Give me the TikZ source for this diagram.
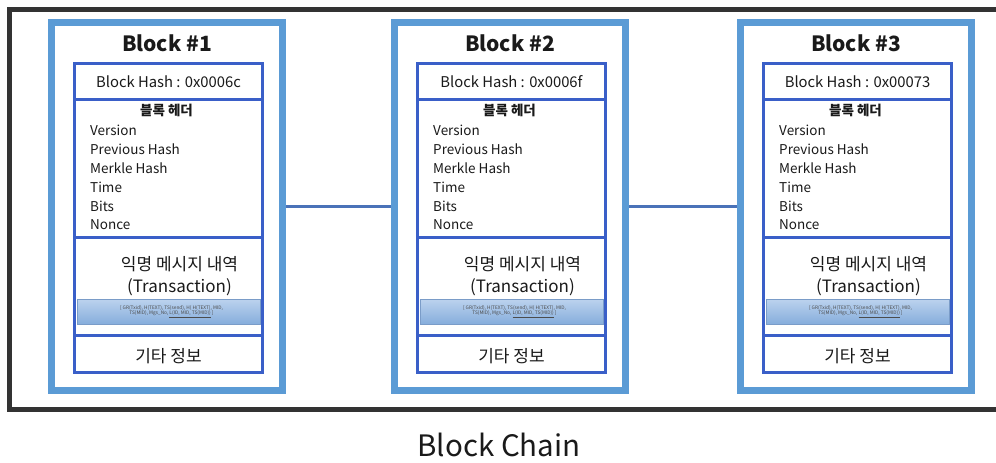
\documentclass[tikz,border=0pt]{standalone}
\usepackage{fontspec}
\setmainfont{Noto Sans CJK KR}
\definecolor{outerblue}{HTML}{5B9BD5}
\definecolor{innerblue}{HTML}{3A5FC8}
\definecolor{connblue}{HTML}{4A72B8}
\definecolor{frame}{HTML}{333333}
\definecolor{txtop}{HTML}{BCD3EE}
\definecolor{txbot}{HTML}{86ADDC}
\definecolor{txborder}{HTML}{7A9CC8}
\definecolor{txt}{HTML}{1A1A1A}
\tikzset{
  outerbox/.style={draw=outerblue, line width=7pt, rectangle, minimum width=231pt, minimum height=368pt, inner sep=0pt},
  innerline/.style={draw=innerblue, line width=3pt},
  conn/.style={draw=connblue, line width=3pt},
  titletext/.style={font=\fontsize{21}{25}\selectfont\bfseries, text=txt},
  hashtext/.style={font=\fontsize{14.8}{17}\selectfont, text=txt},
  headtext/.style={font=\fontsize{13.5}{15}\selectfont\bfseries, text=txt},
  itemtext/.style={font=\fontsize{13.5}{16}\selectfont, text=txt, anchor=west, inner sep=0pt},
  bigtext/.style={font=\fontsize{17}{20}\selectfont, text=txt},
  tinytext/.style={font=\fontsize{4.8}{5.8}\selectfont, text=black!70, align=center, inner sep=0pt},
}
\newcommand{\drawblk}[4]{%
  % #1 = x of outer border centre line (left), #2 = name, #3 = number, #4 = hash
  \node[outerbox] (#2) at ({#1+115.5},206.5) {};
  \draw[innerline] ({#1+23},63.5) rectangle ({#1+211},372.5);
  \draw[innerline] ({#1+23},99) -- ({#1+211},99);
  \draw[innerline] ({#1+23},237) -- ({#1+211},237);
  \draw[innerline] ({#1+23},335) -- ({#1+211},335);
  \node[titletext] (#2-title) at ({#1+115.5},43) {Block \##3};
  \node[hashtext] (#2-hash) at ({#1+117},81.5) {Block Hash : #4};
  \node[headtext] (#2-head) at ({#1+115},110) {블록 헤더};
  \node[itemtext] (#2-i1) at ({#1+38.5},130) {Version};
  \node[itemtext] (#2-i2) at ({#1+38.5},149) {Previous Hash};
  \node[itemtext] (#2-i3) at ({#1+38.5},168) {Merkle Hash};
  \node[itemtext] (#2-i4) at ({#1+38.5},187) {Time};
  \node[itemtext] (#2-i5) at ({#1+38.5},206) {Bits};
  \node[itemtext] (#2-i6) at ({#1+38.5},225) {Nonce};
  \node[bigtext] (#2-anon) at ({#1+128},264) {익명 메시지 내역};
  \node[bigtext] (#2-trans) at ({#1+128},287) {(Transaction)};
  \shade[top color=txtop, bottom color=txbot, draw=txborder, line width=0.8pt] ({#1+25.5},299) rectangle ({#1+208.5},324);
  \node[tinytext] (#2-tx) at ({#1+120},311.5) {[ GR(Txid), H(TEXT), TS(send), H( H(TEXT), MID,\\ TS(MID), Mgs\_No, \underline{L(ID, MID, TS(MID))} ]};
  \node[bigtext] (#2-etc) at ({#1+117},356) {기타 정보};
}
\begin{document}
\begin{tikzpicture}[x=1pt,y=-1pt]
\clip (0,0) rectangle (996,463);
\fill[white] (0,0) rectangle (996,463);
\draw[frame, line width=5pt] (1010,9.5) -- (9.5,9.5) -- (9.5,409.5) -- (1010,409.5);
\drawblk{51.5}{b1}{1}{0x0006c}
\drawblk{394.5}{b2}{2}{0x0006f}
\drawblk{740.5}{b3}{3}{0x00073}
\draw[conn] (b1) -- (b2);
\draw[conn] (b2) -- (b3);
\node[font=\fontsize{29.5}{34}\selectfont, text=txt] (title) at (499,445) {Block Chain};
\end{tikzpicture}
\end{document}
